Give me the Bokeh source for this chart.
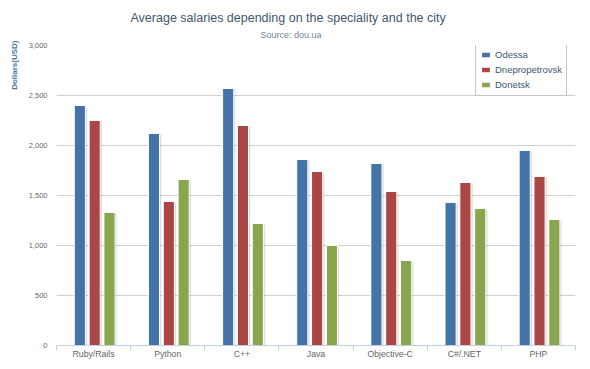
import numpy as np
from bokeh.plotting import figure
from bokeh.models import (ColumnDataSource, Legend, LegendItem, FixedTicker,
                          NumeralTickFormatter, Range1d, Title)
from bokeh.embed import file_html
from bokeh.resources import INLINE

# ---- data ----
categories = ["Ruby/Rails", "Python", "C++", "Java", "Objective-C", "C#/.NET", "PHP"]
cities = ["Odessa", "Dnepropetrovsk", "Donetsk"]
odessa = [2400, 2120, 2570, 1860, 1820, 1430, 1950]
dnepropetrovsk = [2250, 1440, 2200, 1740, 1540, 1630, 1690]
donetsk = [1330, 1660, 1220, 1000, 850, 1370, 1260]
y_ticks = [0, 500, 1000, 1500, 2000, 2500, 3000]
title_text = "Average salaries depending on the speciality and the city"
subtitle_text = "Source: dou.ua"
y_title = "Dollars(USD)"

colors = ["#4572A7", "#AA4643", "#89A54E"]
FONT = "Liberation Sans"

p = figure(width=590, height=369, output_backend="svg", toolbar_location=None,
           x_range=Range1d(0, len(categories)), y_range=Range1d(0, 3000),
           min_border_left=54, min_border_right=15, min_border_top=45, min_border_bottom=24)
p.outline_line_color = None
p.background_fill_color = "white"
p.border_fill_color = "white"

series = [odessa, dnepropetrovsk, donetsk]
offsets = [-0.2, 0.0, 0.2]
bw = 0.15
items = []
for name, vals, col, off in zip(cities, series, colors, offsets):
    xs = [i + 0.5 + off + 0.015 for i in range(len(categories))]
    src = ColumnDataSource(dict(x=xs, top=vals,
                                sx=[x + 0.024 for x in xs],
                                stop=[v - 12 for v in vals]))
    p.vbar(x="sx", top="stop", width=bw, bottom=0, source=src,
           fill_color="#000000", fill_alpha=0.13, line_color=None)
    r = p.vbar(x="x", top="top", width=bw, bottom=0, source=src,
               fill_color=col, line_color="white", line_width=1)
    items.append(LegendItem(label=name, renderers=[r]))

# x axis
xa = p.xaxis[0]
centers = [i + 0.5 for i in range(len(categories))]
xa.ticker = FixedTicker(ticks=centers, minor_ticks=list(range(len(categories) + 1)))
xa.major_label_overrides = {c: lab for c, lab in zip(centers, categories)}
xa.major_tick_out = 0
xa.major_tick_in = 0
xa.minor_tick_out = 5
xa.minor_tick_in = 0
xa.minor_tick_line_color = "#C0D0E0"
xa.axis_line_color = "#C0D0E0"
xa.major_label_standoff = -2
xa.major_label_text_font = FONT
xa.major_label_text_font_size = "8.7px"
xa.major_label_text_color = "#666666"

# y axis
ya = p.yaxis[0]
ya.ticker = FixedTicker(ticks=y_ticks, minor_ticks=[])
ya.formatter = NumeralTickFormatter(format="0,0")
ya.axis_line_color = None
ya.major_tick_out = 0
ya.major_tick_in = 0
ya.minor_tick_line_color = None
ya.major_label_standoff = 9
ya.major_label_text_font = FONT
ya.major_label_text_font_size = "7.5px"
ya.major_label_text_color = "#666666"

p.xgrid.grid_line_color = None
p.ygrid.grid_line_color = "#D0D0D0"

# titles (subtitle first: nearest the frame)
p.add_layout(Title(text=subtitle_text, align="left", offset=204, standoff=11,
                   text_font=FONT, text_font_size="9px", text_font_style="normal",
                   text_color="#6D869F"), "above")
p.add_layout(Title(text=title_text, align="left", offset=74, standoff=-5,
                   text_font=FONT, text_font_size="12.5px", text_font_style="normal",
                   text_color="#3E576F"), "above")
p.add_layout(Title(text=y_title, align="right", offset=-5, standoff=14,
                   text_font=FONT, text_font_size="8px", text_font_style="bold",
                   text_color="#4D759E"), "left")

legend = Legend(items=items, location=(419, 249), orientation="vertical",
                label_text_font=FONT, label_text_font_size="9.5px", label_text_color="#3E576F",
                glyph_width=11, glyph_height=7, label_height=13, label_standoff=4,
                spacing=2, padding=4, margin=0,
                border_line_color="#909090", border_line_width=1,
                background_fill_color="white", background_fill_alpha=1)
p.add_layout(legend)

open("out.html", "w").write(file_html(p, INLINE))
